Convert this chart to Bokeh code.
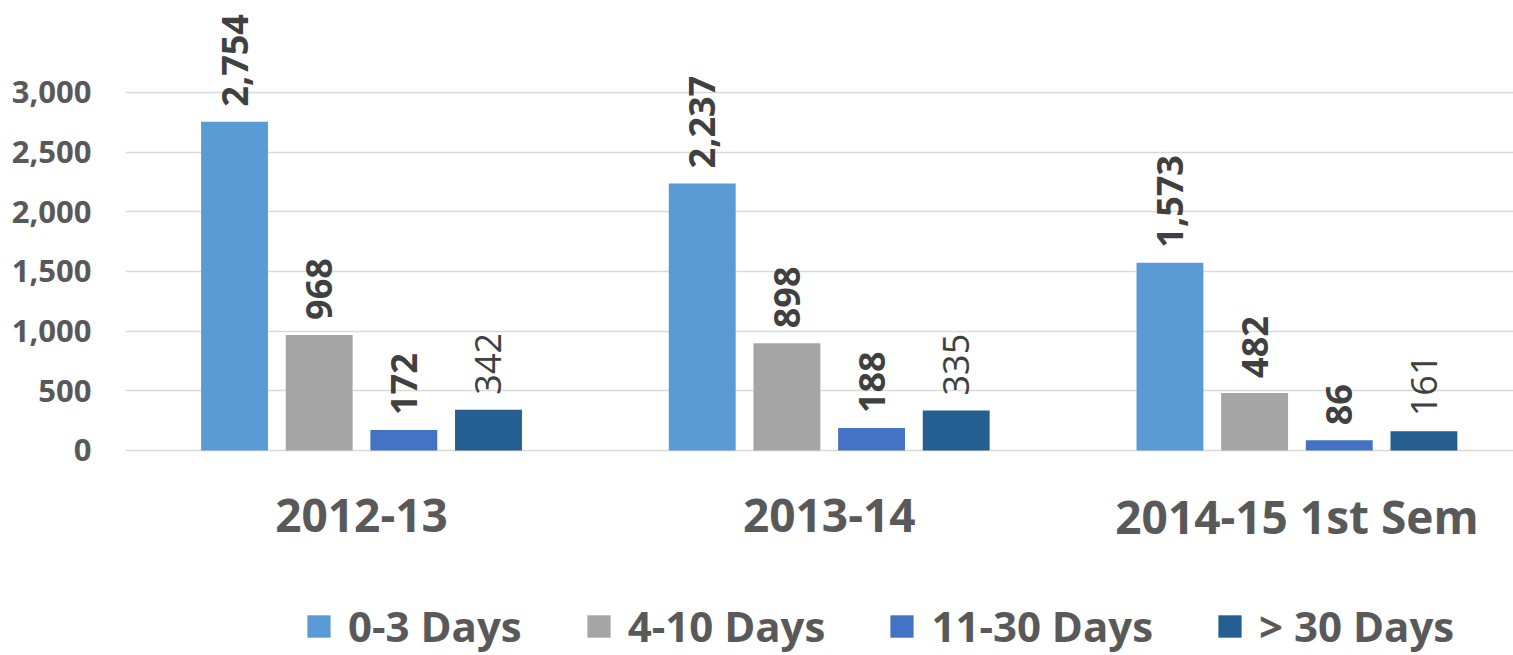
import math
from bokeh.plotting import figure
from bokeh.models import FixedTicker, NumeralTickFormatter, Legend, LegendItem
from bokeh.core.properties import value
from bokeh.embed import file_html
from bokeh.resources import INLINE

categories = ["2012-13", "2013-14", "2014-15 1st Sem"]
series_names = ["0-3 Days", "4-10 Days", "11-30 Days", "> 30 Days"]
days_0_3 = [2754, 2237, 1573]
days_4_10 = [968, 898, 482]
days_11_30 = [172, 188, 86]
days_over_30 = [342, 335, 161]
series_values = [days_0_3, days_4_10, days_11_30, days_over_30]
series_colors = ["#5B9BD5", "#A5A5A5", "#4472C4", "#255E91"]
label_weights = ["bold", "bold", "bold", "normal"]
y_ticks = [0, 500, 1000, 1500, 2000, 2500, 3000]

FONT = "Open Sans"

p = figure(width=1513, height=655, output_backend="svg", toolbar_location=None,
           x_range=(-0.0046, 2.963), y_range=(-1717, 3769),
           x_axis_location=None,
           min_border_left=125, min_border_right=0, min_border_top=0, min_border_bottom=0)
p.outline_line_color = None
p.background_fill_color = "white"
p.border_fill_color = "white"

p.xgrid.visible = False
p.ygrid.ticker = FixedTicker(ticks=y_ticks)
p.ygrid.grid_line_color = "#D9D9D9"
p.ygrid.grid_line_width = 1.5

ax = p.yaxis[0]
ax.ticker = FixedTicker(ticks=y_ticks)
ax.formatter = NumeralTickFormatter(format="0,0")
ax.axis_line_color = None
ax.major_tick_line_color = None
ax.minor_tick_line_color = None
ax.major_tick_out = 0
ax.major_label_standoff = 34
ax.major_label_text_font = FONT
ax.major_label_text_font_style = "bold"
ax.major_label_text_font_size = "31px"
ax.major_label_text_color = "#595959"

pitch = 0.181
bar_w = 0.143
offsets = [(j - 1.5) * pitch for j in range(4)]

items = []
for j, vals in enumerate(series_values):
    xs = [i + 0.5 + offsets[j] for i in range(len(categories))]
    r = p.vbar(x=xs, top=vals, bottom=0, width=bar_w, fill_color=series_colors[j],
               line_color=None)
    items.append(LegendItem(label=series_names[j], renderers=[r]))
    p.text(x=xs, y=vals, text=[f"{v:,}" for v in vals], angle=math.pi / 2,
           text_align="left", text_baseline="middle", y_offset=-15,
           text_font=value(FONT), text_font_style=label_weights[j],
           text_font_size="36px", text_color="#404040")

p.text(x=[i + 0.5 for i in range(len(categories))], y=[-545] * len(categories),
       text=categories, text_align="center", text_baseline="middle",
       text_font=value(FONT), text_font_style="bold", text_font_size="46px",
       text_color="#595959")

legend = Legend(items=items, location=(179, 1), orientation="horizontal",
                glyph_width=29, glyph_height=28, label_standoff=15, spacing=62,
                padding=0, margin=0, border_line_color=None, background_fill_alpha=0,
                label_text_font=FONT, label_text_font_style="bold",
                label_text_font_size="42px", label_text_color="#595959")
p.add_layout(legend)

open("out.html", "w").write(file_html(p, INLINE))
